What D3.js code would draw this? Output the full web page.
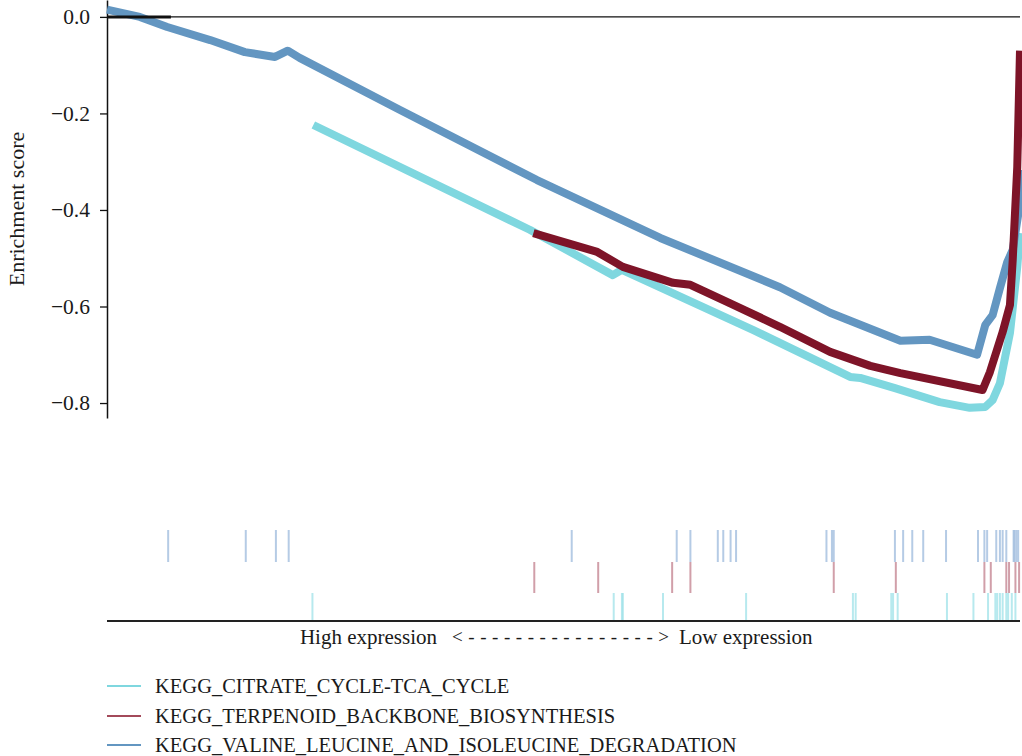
<!DOCTYPE html>
<html>
<head>
<meta charset="utf-8">
<script src="https://cdn.jsdelivr.net/npm/d3@7"></script>
<style>
  html, body { margin: 0; padding: 0; background: #fff; }
  svg { display: block; }
  text { font-family: "Liberation Serif", "DejaVu Serif", serif; fill: #1a1a1a; }
</style>
</head>
<body>
<svg id="chart" width="1022" height="756"></svg>
<script>
// Running enrichment score curves (position in ranked list, % ; enrichment score)
const setNames = [
  "KEGG_CITRATE_CYCLE-TCA_CYCLE",
  "KEGG_TERPENOID_BACKBONE_BIOSYNTHESIS",
  "KEGG_VALINE_LEUCINE_AND_ISOLEUCINE_DEGRADATION"
];

const citrateRank = [22.6, 46.3, 55.4, 56.4, 70.8, 81.4, 82.5, 86.3, 91.2, 94.5, 96.2, 97.0, 97.8, 98.9, 99.7, 100];
const citrateES   = [-0.224, -0.441, -0.535, -0.524, -0.649, -0.746, -0.748, -0.769, -0.798, -0.810, -0.808, -0.794, -0.759, -0.655, -0.518, -0.448];

const terpenoidRank = [46.7, 53.7, 56.5, 62.0, 63.9, 68.2, 73.7, 79.2, 83.6, 86.9, 95.9, 96.7, 98.1, 98.9, 99.2, 99.7, 100];
const terpenoidES   = [-0.448, -0.487, -0.518, -0.551, -0.555, -0.593, -0.642, -0.694, -0.723, -0.738, -0.773, -0.736, -0.653, -0.597, -0.504, -0.311, -0.070];

const valineRank = [0, 3.6, 6.6, 11.3, 15.1, 18.4, 19.8, 21.1, 32.1, 47.1, 60.6, 73.7, 79.2, 86.9, 90.1, 95.3, 96.2, 97.0, 97.8, 98.6, 99.2, 99.8, 100];
const valineES   = [0.015, 0.0, -0.021, -0.048, -0.073, -0.083, -0.070, -0.085, -0.193, -0.338, -0.458, -0.560, -0.613, -0.671, -0.669, -0.700, -0.638, -0.618, -0.562, -0.508, -0.483, -0.410, -0.317];

// Short segment drawn on the zero line at the start of the list
const startRank = [0, 7];
const startES   = [0, 0];

// Gene-set member positions in the ranked list (%)
const valineHits = [6.7, 15.2, 18.5, 19.9, 50.9, 62.4, 63.9, 66.9, 67.5, 68.3, 68.9, 78.8, 79.4, 79.6,
  86.3, 87.2, 88.2, 89.4, 91.9, 95.4, 96.1, 96.4, 97.4, 97.8, 98.1, 98.5, 99.3, 99.4, 99.6, 99.8];
const terpenoidHits = [46.8, 53.8, 61.9, 63.9, 79.6, 86.4, 96.1, 96.8, 98.5, 98.8, 99.5, 99.9];
const citrateHits = [22.5, 55.5, 56.4, 56.5, 60.9, 70.0, 81.7, 82.0, 85.9, 86.1, 86.6, 92.0, 94.9,
  96.5, 97.3, 97.5, 97.8, 98.1, 98.5, 98.7, 99.1, 99.5];

const yTicks = [0, -0.2, -0.4, -0.6, -0.8];
const xLabelLeft = "High expression";
const xLabelArrow = "<---------------->";
const xLabelRight = "Low expression";
const yLabel = "Enrichment score";

const colors = ["#7fd7df", "#7e1428", "#6396c1"];
const hitColors = ["#9fe2e8", "#c27f8c", "#9cb9dc"];

const svg = d3.select("#chart");

const x = d3.scaleLinear().domain([0, 100]).range([107, 1020]);
const y = d3.scaleLinear().domain([-0.831, 0.035]).range([418, 0]);

// Zero reference line
svg.append("line")
  .attr("x1", x(0)).attr("x2", x(100))
  .attr("y1", y(0)).attr("y2", y(0))
  .attr("stroke", "#111").attr("stroke-width", 1.3);

// Y axis
const yAxis = svg.append("g")
  .attr("transform", `translate(${x(0)},0)`)
  .call(d3.axisLeft(y).tickValues(yTicks).tickSize(7).tickSizeOuter(0)
    .tickFormat(d => d === 0 ? "0.0" : d3.format(".1f")(d).replace("-", "\u2212")));
yAxis.select(".domain").attr("stroke", "#111").attr("stroke-width", 1.5);
yAxis.selectAll(".tick line").attr("stroke", "#111").attr("stroke-width", 1.3);
yAxis.selectAll(".tick text")
  .attr("x", -17)
  .style("font-family", "'Liberation Serif', serif")
  .style("font-size", "21.5px")
  .attr("fill", "#1a1a1a");

svg.append("text")
  .attr("transform", `translate(24,209) rotate(-90)`)
  .attr("text-anchor", "middle")
  .style("font-size", "22px")
  .text(yLabel);

// Enrichment curves
const line = d3.line().x(d => x(d[0])).y(d => y(d[1])).curve(d3.curveLinear);
const curves = [
  { rank: citrateRank, es: citrateES, color: colors[0] },
  { rank: valineRank, es: valineES, color: colors[2] },
  { rank: terpenoidRank, es: terpenoidES, color: colors[1] }
];
curves.forEach(c => {
  svg.append("path")
    .datum(c.rank.map((r, i) => [r, c.es[i]]))
    .attr("d", line)
    .attr("fill", "none")
    .attr("stroke", c.color)
    .attr("stroke-width", 8)
    .attr("stroke-linejoin", "round")
    .attr("stroke-linecap", "butt");
});

svg.append("path")
  .datum(startRank.map((r, i) => [r, startES[i]]))
  .attr("d", line)
  .attr("fill", "none")
  .attr("stroke", "#111")
  .attr("stroke-width", 3);

// Hit rug rows
const rows = [
  { hits: valineHits, color: hitColors[2], top: 530, bottom: 562 },
  { hits: terpenoidHits, color: hitColors[1], top: 562, bottom: 593 },
  { hits: citrateHits, color: hitColors[0], top: 593, bottom: 620 }
];
rows.forEach(r => {
  svg.append("g").selectAll("line").data(r.hits).join("line")
    .attr("x1", d => x(d)).attr("x2", d => x(d))
    .attr("y1", r.top).attr("y2", r.bottom)
    .attr("stroke", r.color)
    .attr("stroke-width", 2)
    .attr("stroke-opacity", 0.75);
});

// Bottom baseline of the rug panel
svg.append("line")
  .attr("x1", x(0)).attr("x2", x(100))
  .attr("y1", 621).attr("y2", 621)
  .attr("stroke", "#222").attr("stroke-width", 2);

// Ranking direction label
svg.append("text").attr("x", 437).attr("y", 644).attr("text-anchor", "end")
  .style("font-size", "21px").text(xLabelLeft);
svg.append("text").attr("x", 452).attr("y", 643)
  .attr("textLength", 217).attr("lengthAdjust", "spacing")
  .style("font-size", "19px").text(xLabelArrow);
svg.append("text").attr("x", 679).attr("y", 644)
  .style("font-size", "21px").text(xLabelRight);

// Legend
const legendY = [686, 716, 745];
setNames.forEach((name, i) => {
  svg.append("line")
    .attr("x1", 107).attr("x2", 141)
    .attr("y1", legendY[i]).attr("y2", legendY[i])
    .attr("stroke", [colors[0], "#a34a5a", colors[2]][i])
    .attr("stroke-width", 2);
  svg.append("text")
    .attr("x", 155).attr("y", legendY[i] + 7)
    .style("font-size", "20.5px")
    .text(name);
});
</script>
</body>
</html>
